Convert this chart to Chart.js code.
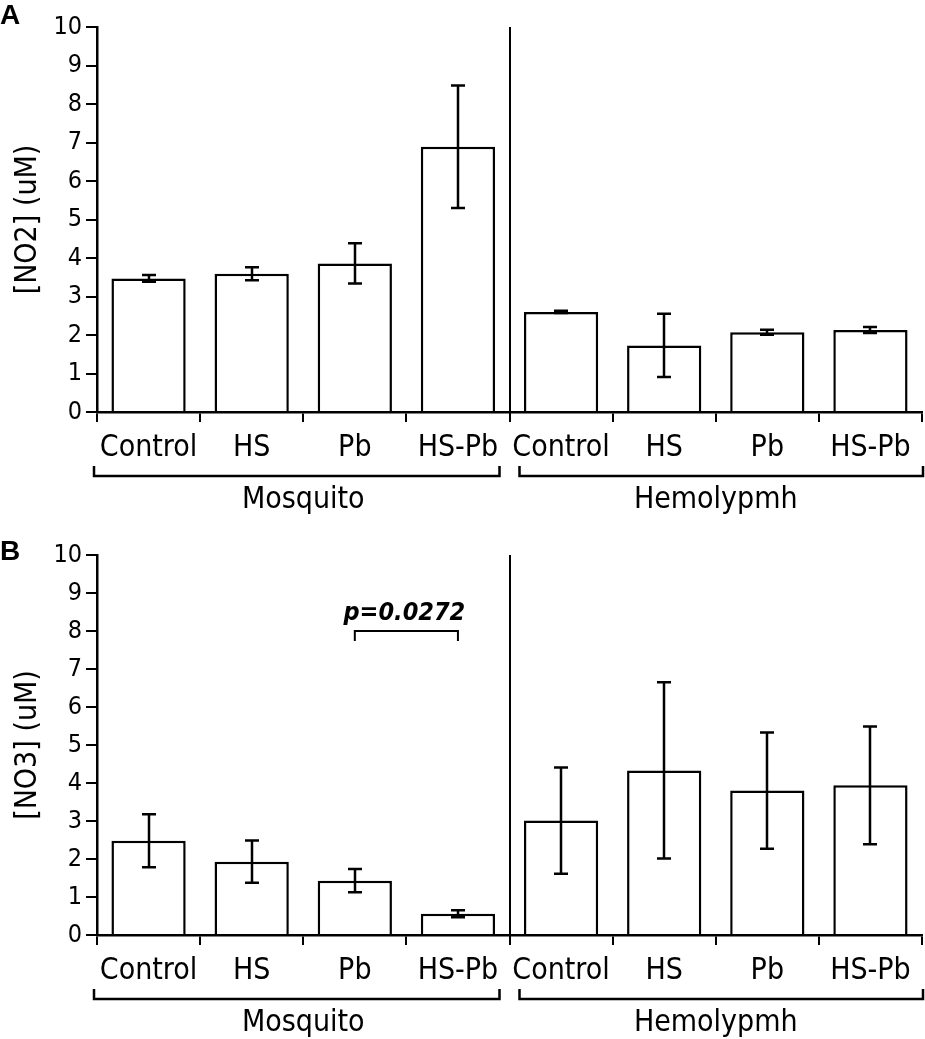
<!DOCTYPE html>
<html>
<head>
<meta charset="utf-8">
<script src="https://cdn.jsdelivr.net/npm/chart.js@4.4.1/dist/chart.umd.min.js"></script>
<style>
  html, body { margin: 0; padding: 0; background: #fff; }
  #wrap { position: relative; width: 925px; height: 1039px; }
  canvas { position: absolute; left: 0; }
</style>
</head>
<body>
<div id="wrap">
  <canvas id="chartA" width="925" height="520" style="top:0px"></canvas>
  <canvas id="chartB" width="925" height="519" style="top:520px"></canvas>
</div>
<script>
// ---- data ----
const categories = ['Control', 'HS', 'Pb', 'HS-Pb', 'Control', 'HS', 'Pb', 'HS-Pb'];
const groupLabels = ['Mosquito', 'Hemolypmh'];
const groupSizes = [4, 4];
const yTicks = [0, 1, 2, 3, 4, 5, 6, 7, 8, 9, 10];

const no2Mean = [3.47, 3.59, 3.86, 6.89, 2.60, 1.73, 2.07, 2.13];
const no2Err  = [0.09, 0.17, 0.52, 1.59, 0.03, 0.82, 0.065, 0.08];

const no3Mean = [2.48, 1.93, 1.43, 0.56, 3.01, 4.33, 3.80, 3.94];
const no3Err  = [0.70, 0.555, 0.305, 0.09, 1.40, 2.32, 1.53, 1.55];

const pText = 'p=0.0272';
const pPair = [2, 3];
const pLevel = 8;

// ---- styling ----
const FONT = "'DejaVu Sans Condensed', 'DejaVu Sans', sans-serif";

function annotationPlugin(cfg) {
  return {
    id: 'annot',
    afterDatasetsDraw(chart) {
      const ctx = chart.ctx;
      const xs = chart.scales.x, ys = chart.scales.y;
      const means = chart.data.datasets[0].data;
      const errs = cfg.errs;
      ctx.save();
      ctx.strokeStyle = '#000';
      ctx.lineWidth = 2.5;
      for (let i = 0; i < means.length; i++) {
        const x = Math.round(xs.getPixelForValue(i));
        const yt = ys.getPixelForValue(means[i] + errs[i]);
        const yb = ys.getPixelForValue(means[i] - errs[i]);
        ctx.beginPath();
        ctx.moveTo(x, yt); ctx.lineTo(x, yb);
        ctx.moveTo(x - 7, yt); ctx.lineTo(x + 7, yt);
        ctx.moveTo(x - 7, yb); ctx.lineTo(x + 7, yb);
        ctx.stroke();
      }
      ctx.restore();
    },
    afterDraw(chart) {
      const ctx = chart.ctx;
      const xs = chart.scales.x, ys = chart.scales.y;
      const area = chart.chartArea;
      const half = (xs.getPixelForValue(1) - xs.getPixelForValue(0)) / 2;
      ctx.save();
      ctx.strokeStyle = '#000';
      ctx.fillStyle = '#000';
      ctx.lineWidth = 2;
      // divider between groups
      const divX = Math.round((xs.getPixelForValue(groupSizes[0] - 1) + xs.getPixelForValue(groupSizes[0])) / 2);
      ctx.beginPath();
      ctx.moveTo(divX, area.top);
      ctx.lineTo(divX, area.bottom + 10);
      ctx.stroke();
      // group brackets + labels
      let start = 0;
      const by = Math.round(area.bottom + 64);
      ctx.lineWidth = 2.5;
      for (let g = 0; g < groupSizes.length; g++) {
        const end = start + groupSizes[g] - 1;
        let lx = xs.getPixelForValue(start) - half;
        let rx = xs.getPixelForValue(end) + half;
        lx += (g === 0) ? -3 : 10;
        rx += (g === groupSizes.length - 1) ? 1 : -10;
        ctx.beginPath();
        ctx.moveTo(lx, by - 10); ctx.lineTo(lx, by); ctx.lineTo(rx, by); ctx.lineTo(rx, by - 10);
        ctx.stroke();
        const cx = (xs.getPixelForValue(start) - half + xs.getPixelForValue(end) + half) / 2;
        ctx.font = '30px ' + FONT;
        ctx.textAlign = 'center';
        ctx.textBaseline = 'alphabetic';
        ctx.fillText(groupLabels[g], cx, by + 32);
        start = end + 1;
      }
      // panel letter
      ctx.font = "bold 28px 'Liberation Sans', Arial, sans-serif";
      ctx.textAlign = 'left';
      ctx.textBaseline = 'alphabetic';
      ctx.fillText(cfg.letter, 0, cfg.letterY);
      // significance bracket
      if (cfg.pValue) {
        const x1 = xs.getPixelForValue(pPair[0]);
        const x2 = xs.getPixelForValue(pPair[1]);
        const y = ys.getPixelForValue(pLevel);
        ctx.lineWidth = 2;
        ctx.beginPath();
        ctx.moveTo(x1, y + 10); ctx.lineTo(x1, y); ctx.lineTo(x2, y); ctx.lineTo(x2, y + 10);
        ctx.stroke();
        ctx.font = 'italic bold 25px ' + FONT;
        ctx.textAlign = 'center';
        ctx.fillText(pText, (x1 + x2) / 2 - 2, y - 11);
      }
      ctx.restore();
    }
  };
}

function makePanel(id, means, errs, yTitle, letter, padTop, padBottom, letterY, pValue) {
  return new Chart(document.getElementById(id), {
    type: 'bar',
    data: {
      labels: categories,
      datasets: [{
        data: means,
        backgroundColor: '#ffffff',
        borderColor: '#000000',
        borderWidth: 2.5,
        categoryPercentage: 1.0,
        barPercentage: 0.72
      }]
    },
    options: {
      responsive: false,
      animation: false,
      devicePixelRatio: 1,
      layout: { padding: { top: padTop, right: 3, bottom: padBottom, left: 0 } },
      plugins: { legend: { display: false }, tooltip: { enabled: false } },
      scales: {
        x: {
          offset: true,
          grid: { offset: true, drawOnChartArea: false, drawTicks: true, tickLength: 10, color: '#000', lineWidth: 2 },
          border: { display: true, color: '#000', width: 2.5 },
          ticks: { color: '#000', font: { family: FONT, size: 30 }, maxRotation: 0, autoSkip: false, padding: 8 },
          afterFit(s) { s.height = 50; }
        },
        y: {
          min: 0, max: 10,
          afterBuildTicks(s) { s.ticks = yTicks.map(v => ({ value: v })); },
          grid: { drawOnChartArea: false, drawTicks: true, tickLength: 11, color: '#000', lineWidth: 2 },
          border: { display: true, color: '#000', width: 2.5 },
          ticks: { color: '#000', font: { family: FONT, size: 25 }, padding: 4 },
          title: { display: true, text: yTitle, color: '#000', font: { family: FONT, size: 30 }, padding: { top: 10, bottom: 0 } },
          afterFit(s) { s.width = 97; }
        }
      }
    },
    plugins: [annotationPlugin({ errs: errs, letter: letter, letterY: letterY, pValue: pValue })]
  });
}

makePanel('chartA', no2Mean, no2Err, '[NO2] (uM)', 'A', 27, 58, 24, false);
makePanel('chartB', no3Mean, no3Err, '[NO3] (uM)', 'B', 35, 54, 40, true);
</script>
</body>
</html>
